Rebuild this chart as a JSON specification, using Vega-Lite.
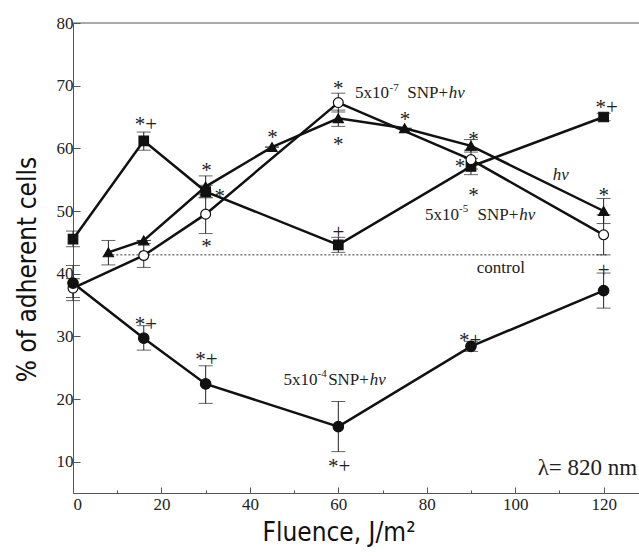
{
  "$schema": "https://vega.github.io/schema/vega-lite/v6.json",
  "autosize": {"type": "none"},
  "padding": {"left": 73, "top": 23, "right": 0, "bottom": 63},
  "width": 566,
  "height": 470,
  "background": "white",
  "config": {
    "view": {"stroke": null},
    "axis": {"grid": false, "domainColor": "#555", "tickColor": "#555", "labelColor": "#222", "titleColor": "#111", "labelFont": "Liberation Serif", "labelFontSize": 17, "titleFont": "DejaVu Sans Condensed, Liberation Sans Narrow, sans-serif", "titleFontSize": 26, "titleFontWeight": "normal"}
  },
  "datasets": {
    "main": [
      {"series": "S5", "x": 0, "y": 45.5, "lo": 44.3, "hi": 46.8},
      {"series": "S5", "x": 16, "y": 61.2, "lo": 59.7, "hi": 62.6},
      {"series": "S5", "x": 30, "y": 53.1, "lo": 52.1, "hi": 54.1},
      {"series": "S5", "x": 60, "y": 44.6, "lo": 43.4, "hi": 45.8},
      {"series": "S5", "x": 90, "y": 57.1, "lo": 55.8, "hi": 58.4},
      {"series": "S5", "x": 120, "y": 65.0, "lo": 64.4, "hi": 65.6},
      {"series": "O7", "x": 0, "y": 37.7, "lo": 36.2, "hi": 39.2},
      {"series": "O7", "x": 16, "y": 42.9, "lo": 41.0, "hi": 44.8},
      {"series": "O7", "x": 30, "y": 49.5, "lo": 46.4, "hi": 52.6},
      {"series": "O7", "x": 60, "y": 67.3, "lo": 65.8, "hi": 68.8},
      {"series": "O7", "x": 90, "y": 58.2, "lo": 56.7, "hi": 59.7},
      {"series": "O7", "x": 120, "y": 46.2, "lo": 43.0, "hi": 49.4},
      {"series": "HV", "x": 8, "y": 43.4, "lo": 41.4, "hi": 45.3},
      {"series": "HV", "x": 16, "y": 45.3, "lo": 45.3, "hi": 45.3},
      {"series": "HV", "x": 30, "y": 53.9, "lo": 52.2, "hi": 55.6},
      {"series": "HV", "x": 45, "y": 60.2, "lo": 60.2, "hi": 60.2},
      {"series": "HV", "x": 60, "y": 64.8, "lo": 63.5, "hi": 66.1},
      {"series": "HV", "x": 75, "y": 63.2, "lo": 63.2, "hi": 63.2},
      {"series": "HV", "x": 90, "y": 60.4, "lo": 59.4, "hi": 61.4},
      {"series": "HV", "x": 120, "y": 50.0, "lo": 48.0, "hi": 52.0},
      {"series": "C4", "x": 0, "y": 38.5, "lo": 35.7, "hi": 41.3},
      {"series": "C4", "x": 16, "y": 29.7, "lo": 27.8, "hi": 31.7},
      {"series": "C4", "x": 30, "y": 22.4, "lo": 19.3, "hi": 25.3},
      {"series": "C4", "x": 60, "y": 15.6, "lo": 11.6, "hi": 19.6},
      {"series": "C4", "x": 90, "y": 28.4, "lo": 27.6, "hi": 29.2},
      {"series": "C4", "x": 120, "y": 37.3, "lo": 34.5, "hi": 40.1}
    ],
    "control": [{"x": 8, "x2": 121, "y": 43}],
    "ann": [
      {"kind": "mark", "x": 16.5, "y": 64.5, "t": "*+"},
      {"kind": "mark", "x": 30.2, "y": 57.2, "t": "*"},
      {"kind": "mark", "x": 33.2, "y": 53.1, "t": "*"},
      {"kind": "mark", "x": 30.2, "y": 45.1, "t": "*"},
      {"kind": "mark", "x": 45.1, "y": 62.4, "t": "*"},
      {"kind": "mark", "x": 60, "y": 70.3, "t": "*"},
      {"kind": "mark", "x": 60, "y": 61.3, "t": "*"},
      {"kind": "mark", "x": 75.1, "y": 65.3, "t": "*"},
      {"kind": "mark", "x": 90.6, "y": 62.1, "t": "*"},
      {"kind": "mark", "x": 87.5, "y": 57.8, "t": "*"},
      {"kind": "mark", "x": 90.6, "y": 53.2, "t": "*"},
      {"kind": "mark", "x": 120.7, "y": 67.2, "t": "*+"},
      {"kind": "mark", "x": 120, "y": 53.2, "t": "*"},
      {"kind": "mark", "x": 60, "y": 47.3, "t": "+"},
      {"kind": "mark", "x": 120, "y": 41.3, "t": "+"},
      {"kind": "mark", "x": 16.5, "y": 32.6, "t": "*+"},
      {"kind": "mark", "x": 30.2, "y": 27.0, "t": "*+"},
      {"kind": "mark", "x": 60.2, "y": 9.9, "t": "*+"},
      {"kind": "mark", "x": 89.8, "y": 30.1, "t": "*+"},
      {"kind": "lbl", "x": 63.8, "y": 68.0, "t": "5x10"},
      {"kind": "sup", "x": 71.6, "y": 69.2, "t": "-7"},
      {"kind": "lbl", "x": 75.6, "y": 68.0, "t": "SNP+"},
      {"kind": "it", "x": 85.0, "y": 68.0, "t": "hv"},
      {"kind": "it", "x": 108.5, "y": 54.95, "t": "hv"},
      {"kind": "lbl", "x": 79.6, "y": 48.6, "t": "5x10"},
      {"kind": "sup", "x": 87.3, "y": 49.9, "t": "-5"},
      {"kind": "lbl", "x": 91.5, "y": 48.6, "t": "SNP+"},
      {"kind": "it", "x": 100.9, "y": 48.6, "t": "hv"},
      {"kind": "lbl", "x": 91.3, "y": 40.16, "t": "control"},
      {"kind": "lbl", "x": 47.6, "y": 22.24, "t": "5x10"},
      {"kind": "sup", "x": 55.3, "y": 23.5, "t": "-4"},
      {"kind": "lbl", "x": 57.7, "y": 22.24, "t": "SNP+"},
      {"kind": "it", "x": 67.1, "y": 22.24, "t": "hv"},
      {"kind": "big", "x": 127.6, "y": 7.87, "t": "λ= 820 nm"}
    ]
  },
  "layer": [
    {
      "data": {"values": [{"v": 80}]},
      "mark": {"type": "rule", "color": "#555", "strokeWidth": 1},
      "encoding": {"y": {"field": "v", "type": "quantitative"}}
    },
    {
      "data": {"name": "control"},
      "mark": {"type": "rule", "color": "#333", "strokeWidth": 1, "strokeDash": [2, 2]},
      "encoding": {
        "x": {"field": "x", "type": "quantitative"},
        "x2": {"field": "x2"},
        "y": {"field": "y", "type": "quantitative"}
      }
    },
    {
      "data": {"name": "main"},
      "mark": {"type": "rule", "color": "#222", "strokeWidth": 1},
      "encoding": {
        "x": {"field": "x", "type": "quantitative"},
        "y": {"field": "lo", "type": "quantitative"},
        "y2": {"field": "hi"}
      }
    },
    {
      "data": {"name": "main"},
      "mark": {"type": "tick", "orient": "horizontal", "color": "#222", "thickness": 1, "size": 14},
      "encoding": {
        "x": {"field": "x", "type": "quantitative"},
        "y": {"field": "lo", "type": "quantitative"}
      }
    },
    {
      "data": {"name": "main"},
      "mark": {"type": "tick", "orient": "horizontal", "color": "#222", "thickness": 1, "size": 14},
      "encoding": {
        "x": {"field": "x", "type": "quantitative"},
        "y": {"field": "hi", "type": "quantitative"}
      }
    },
    {
      "data": {"name": "main"},
      "mark": {"type": "line", "color": "#111"},
      "encoding": {
        "x": {
          "field": "x", "type": "quantitative",
          "scale": {"domain": [0, 128], "nice": false, "zero": false},
          "axis": {
            "values": [0, 10, 20, 30, 40, 50, 60, 70, 80, 90, 100, 110, 120],
            "labelExpr": "datum.value % 20 === 0 ? datum.label : ''",
            "tickSize": {"condition": {"test": "datum.value % 20 === 0", "value": -6}, "value": -3},
            "labelPadding": 9,
            "title": "Fluence, J/m²",
            "titleX": 265.5, "titleY": 47, "titleAlign": "center", "titleBaseline": "alphabetic", "titleAnchor": null
          }
        },
        "y": {
          "field": "y", "type": "quantitative",
          "scale": {"domain": [5, 80], "nice": false, "zero": false},
          "axis": {
            "values": [10, 15, 20, 25, 30, 35, 40, 45, 50, 55, 60, 65, 70, 75, 80],
            "labelExpr": "datum.value % 10 === 0 ? datum.label : ''",
            "tickSize": {"condition": {"test": "datum.value % 10 === 0", "value": -7}, "value": -4},
            "labelPadding": 7,
            "title": "% of adherent cells",
            "titleX": -38, "titleY": 246, "titleAlign": "center", "titleBaseline": "alphabetic", "titleAngle": -90
          }
        },
        "detail": {"field": "series"},
        "strokeWidth": {"field": "series", "type": "nominal", "scale": {"domain": ["S5", "O7", "HV", "C4"], "range": [2.5, 2.5, 1, 2]}, "legend": null}
      }
    },
    {
      "data": {"name": "main"},
      "mark": {"type": "point", "opacity": 1, "strokeWidth": 1.2, "stroke": "#111"},
      "encoding": {
        "x": {"field": "x", "type": "quantitative"},
        "y": {"field": "y", "type": "quantitative"},
        "shape": {"field": "series", "type": "nominal", "scale": {"domain": ["S5", "O7", "HV", "C4"], "range": ["square", "circle", "triangle-up", "circle"]}, "legend": null},
        "fill": {"field": "series", "type": "nominal", "scale": {"domain": ["S5", "O7", "HV", "C4"], "range": ["#111", "#fff", "#111", "#111"]}, "legend": null},
        "size": {"field": "series", "type": "nominal", "scale": {"domain": ["S5", "O7", "HV", "C4"], "range": [90, 110, 100, 110]}, "legend": null}
      }
    },
    {
      "data": {"name": "ann"},
      "transform": [{"filter": "datum.kind === 'mark'"}],
      "mark": {"type": "text", "font": "Liberation Serif", "fontSize": 21, "align": "center", "baseline": "middle", "dy": 5, "color": "#222"},
      "encoding": {
        "x": {"field": "x", "type": "quantitative"},
        "y": {"field": "y", "type": "quantitative"},
        "text": {"field": "t"}
      }
    },
    {
      "data": {"name": "ann"},
      "transform": [{"filter": "datum.kind === 'lbl'"}],
      "mark": {"type": "text", "font": "Liberation Serif", "fontSize": 17, "align": "left", "baseline": "alphabetic", "color": "#222"},
      "encoding": {
        "x": {"field": "x", "type": "quantitative"},
        "y": {"field": "y", "type": "quantitative"},
        "text": {"field": "t"}
      }
    },
    {
      "data": {"name": "ann"},
      "transform": [{"filter": "datum.kind === 'sup'"}],
      "mark": {"type": "text", "font": "Liberation Serif", "fontSize": 11, "align": "left", "baseline": "alphabetic", "color": "#222"},
      "encoding": {
        "x": {"field": "x", "type": "quantitative"},
        "y": {"field": "y", "type": "quantitative"},
        "text": {"field": "t"}
      }
    },
    {
      "data": {"name": "ann"},
      "transform": [{"filter": "datum.kind === 'it'"}],
      "mark": {"type": "text", "font": "Liberation Serif", "fontSize": 17, "fontStyle": "italic", "align": "left", "baseline": "alphabetic", "color": "#222"},
      "encoding": {
        "x": {"field": "x", "type": "quantitative"},
        "y": {"field": "y", "type": "quantitative"},
        "text": {"field": "t"}
      }
    },
    {
      "data": {"name": "ann"},
      "transform": [{"filter": "datum.kind === 'big'"}],
      "mark": {"type": "text", "font": "Liberation Serif", "fontSize": 23, "align": "right", "baseline": "alphabetic", "color": "#222"},
      "encoding": {
        "x": {"field": "x", "type": "quantitative"},
        "y": {"field": "y", "type": "quantitative"},
        "text": {"field": "t"}
      }
    }
  ]
}
